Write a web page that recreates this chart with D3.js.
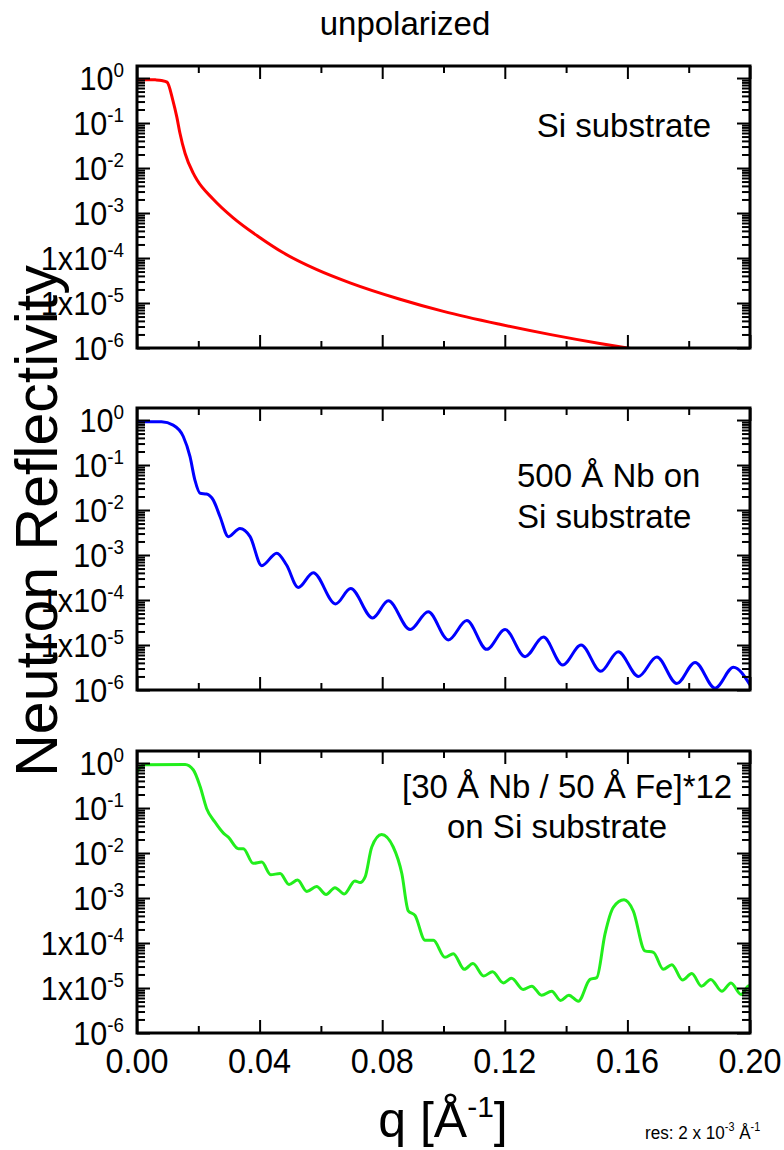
<!DOCTYPE html>
<html>
<head>
<meta charset="utf-8">
<script src="https://cdn.jsdelivr.net/npm/d3@7"></script>
<style>
  body { margin: 0; background: #fff; }
  text { font-family: "Liberation Sans", Arial, sans-serif; fill: #000; }
</style>
</head>
<body>
<div class="chart"></div>
<script>
// reflectivity curves, q in 1/Angstrom
var siQ = [0, 0.002, 0.004, 0.006, 0.008, 0.0098, 0.0117, 0.013, 0.014, 0.0157,
  0.0183, 0.0196, 0.0248, 0.0313, 0.0398, 0.0476, 0.0587, 0.0695, 0.0858, 0.100,
  0.118, 0.135, 0.151, 0.160, 0.180, 0.200];
var siR = [0.90, 0.92, 0.92, 0.91, 0.88, 0.81, 0.32, 0.135, 0.060, 0.021,
  0.0078, 0.0054, 0.00205, 7.9e-4, 2.93e-4, 1.32e-4, 5.5e-5, 2.8e-5, 1.21e-5, 6.5e-6,
  3.4e-6, 1.98e-6, 1.26e-6, 1.0e-6, 6.2e-7, 4.1e-7];

var nbQ = [0, 0.0026, 0.0080, 0.0118, 0.0151, 0.0173, 0.0189, 0.0206, 0.0227, 0.0249,
  0.0271, 0.0298, 0.0336, 0.0369, 0.0407, 0.0456, 0.0488, 0.0526, 0.0575, 0.0648,
  0.0697, 0.0769, 0.0820, 0.0891, 0.0950, 0.1016, 0.1076, 0.1141, 0.1201, 0.1266,
  0.1326, 0.1389, 0.1449, 0.1513, 0.1570, 0.1636, 0.1696, 0.1761, 0.1821, 0.1886,
  0.1946, 0.2000];
var nbR = [0.92, 0.92, 0.91, 0.77, 0.43, 0.153, 0.046, 0.0235, 0.0227, 0.0166,
  0.0071, 0.00256, 0.0039, 0.00256, 5.8e-4, 1.1e-3, 6.0e-4, 1.9e-4, 4.05e-4, 8.2e-5,
  1.8e-4, 4.0e-5, 9.6e-5, 2.2e-5, 5.5e-5, 1.3e-5, 3.5e-5, 8.0e-6, 2.2e-5, 5.5e-6,
  1.5e-5, 3.6e-6, 1.0e-5, 2.6e-6, 7.1e-6, 2.0e-6, 5.4e-6, 1.4e-6, 4.1e-6, 1.1e-6,
  3.2e-6, 1.3e-6];

var mlQ = [0, 0.001, 0.0026, 0.0157, 0.0184, 0.0206, 0.0227, 0.0254, 0.0282, 0.0298,
  0.0331, 0.0347, 0.0379, 0.0407, 0.0436, 0.0467, 0.0496, 0.0524, 0.0554, 0.0586,
  0.0617, 0.0646, 0.0676, 0.0711, 0.0728, 0.0744, 0.0766, 0.0798, 0.0836, 0.0864,
  0.0885, 0.0907, 0.0940, 0.0967, 0.1005, 0.1032, 0.1068, 0.1096, 0.1131, 0.1160,
  0.1195, 0.1222, 0.1260, 0.1288, 0.1320, 0.1353, 0.1382, 0.1409, 0.1440, 0.1478,
  0.1500, 0.1527, 0.1554, 0.1589, 0.1619, 0.1657, 0.1685, 0.1717, 0.1745, 0.1780,
  0.1810, 0.1842, 0.1872, 0.1908, 0.1938, 0.1971, 0.1994, 0.2000];
var mlR = [0.62, 0.80, 0.92, 0.93, 0.70, 0.30, 0.098, 0.049, 0.0277, 0.0225,
  0.0125, 0.0125, 0.0059, 0.0063, 0.0033, 0.0035, 0.0020, 0.0025, 0.0014, 0.0018,
  0.0012, 0.0017, 0.00123, 0.0024, 0.0022, 0.0029, 0.0136, 0.0257, 0.0136, 0.0035,
  5.2e-4, 4.1e-4, 1.15e-4, 1.15e-4, 4.8e-5, 5.8e-5, 2.6e-5, 3.5e-5, 1.85e-5, 2.3e-5,
  1.3e-5, 1.65e-5, 9.3e-6, 1.1e-5, 6.9e-6, 8.5e-6, 5.3e-6, 6.9e-6, 5.1e-6, 1.55e-5,
  1.7e-5, 1.6e-4, 6.2e-4, 9.1e-4, 5.2e-4, 6.7e-5, 6.2e-5, 2.6e-5, 3.3e-5, 1.5e-5,
  2.1e-5, 1.1e-5, 1.55e-5, 8.5e-6, 1.3e-5, 7.2e-6, 1.1e-5, 1.15e-5];

// axis ticks
var qTicks = [0, 0.04, 0.08, 0.12, 0.16, 0.20];
var qMinorTicks = [0.02, 0.06, 0.10, 0.14, 0.18];
var qTickLabels = ["0.00", "0.04", "0.08", "0.12", "0.16", "0.20"];
var rTicks = [1, 1e-1, 1e-2, 1e-3, 1e-4, 1e-5, 1e-6];
var rTickBase = ["10", "10", "10", "10", "1x10", "1x10", "10"];
var rTickExp = ["0", "-1", "-2", "-3", "-4", "-5", "-6"];

var panelColors = ["#ff0000", "#0000ff", "#22ee1c"];

var svgWidth = 784;
var svgHeight = 1150;
var plotLeft = 137;
var plotRight = 750;
var panelHeight = 282;
var panelTops = [66, 408, 751];

var svg = d3.select(".chart")
  .append("svg")
  .attr("width", svgWidth)
  .attr("height", svgHeight);

var xScale = d3.scaleLinear()
  .domain([0, 0.2])
  .range([plotLeft, plotRight]);

// log minor ticks 2..9 in every decade
var rMinorTicks = [];
for (var k = -6; k < 0; k++) {
  for (var m = 2; m <= 9; m++) rMinorTicks.push(m * Math.pow(10, k));
}

var series = [
  { q: siQ, r: siR },
  { q: nbQ, r: nbR },
  { q: mlQ, r: mlR }
];

series.forEach(function(s, i) {
  var top = panelTops[i];
  var yScale = d3.scaleLog()
    .domain([1e-6, 1.85])
    .range([top + panelHeight, top]);

  var g = svg.append("g");

  svg.append("clipPath")
    .attr("id", "clip" + i)
    .append("rect")
    .attr("x", plotLeft)
    .attr("y", top)
    .attr("width", plotRight - plotLeft)
    .attr("height", panelHeight);

  var points = s.q.map(function(q, j) { return [q, s.r[j]]; });
  var line = d3.line()
    .x(d => xScale(d[0]))
    .y(d => yScale(d[1]))
    .curve(d3.curveMonotoneX);

  g.append("path")
    .datum(points)
    .attr("clip-path", "url(#clip" + i + ")")
    .attr("d", line)
    .attr("fill", "none")
    .attr("stroke", panelColors[i])
    .attr("stroke-width", 3)
    .attr("stroke-linejoin", "round");

  // inward ticks on all four sides
  function addAxis(axis, tx, ty) {
    g.append("g")
      .attr("transform", `translate(${tx}, ${ty})`)
      .call(axis)
      .call(a => a.select(".domain").remove())
      .call(a => a.selectAll("line").attr("stroke", "#000").attr("stroke-width", 2));
  }
  addAxis(d3.axisLeft(yScale).tickValues(rTicks).tickSize(-13).tickFormat(""), plotLeft, 0);
  addAxis(d3.axisLeft(yScale).tickValues(rMinorTicks).tickSize(-8).tickFormat(""), plotLeft, 0);
  addAxis(d3.axisRight(yScale).tickValues(rTicks).tickSize(-13).tickFormat(""), plotRight, 0);
  addAxis(d3.axisRight(yScale).tickValues(rMinorTicks).tickSize(-8).tickFormat(""), plotRight, 0);
  addAxis(d3.axisTop(xScale).tickValues(qTicks).tickSize(-13).tickFormat(""), 0, top);
  addAxis(d3.axisTop(xScale).tickValues(qMinorTicks).tickSize(-7).tickFormat(""), 0, top);
  addAxis(d3.axisBottom(xScale).tickValues(qTicks).tickSize(-13).tickFormat(""), 0, top + panelHeight);
  addAxis(d3.axisBottom(xScale).tickValues(qMinorTicks).tickSize(-7).tickFormat(""), 0, top + panelHeight);

  // frame
  g.append("rect")
    .attr("x", plotLeft)
    .attr("y", top)
    .attr("width", plotRight - plotLeft)
    .attr("height", panelHeight)
    .attr("fill", "none")
    .attr("stroke", "#000")
    .attr("stroke-width", 3);

  // y tick labels with superscript exponents, slightly condensed
  rTicks.forEach(function(t, j) {
    var label = g.append("text")
      .attr("transform", `translate(124, ${yScale(t) + 12}) scale(0.9, 1)`)
      .attr("text-anchor", "end")
      .style("font-size", "34px");
    label.append("tspan").text(rTickBase[j]);
    label.append("tspan")
      .attr("dy", -13)
      .style("font-size", "21px")
      .text(rTickExp[j]);
  });
});

// x tick labels under the last panel
svg.selectAll(".xlabel")
  .data(qTicks)
  .enter()
  .append("text")
  .attr("class", "xlabel")
  .attr("transform", d => `translate(${xScale(d)}, 1073) scale(0.9, 1)`)
  .attr("text-anchor", "middle")
  .style("font-size", "36px")
  .text((d, i) => qTickLabels[i]);

// panel annotations
function addNote(lines, x, y, anchor) {
  lines.forEach(function(t, j) {
    svg.append("text")
      .attr("x", x[j])
      .attr("y", y[j])
      .attr("text-anchor", anchor)
      .style("font-size", "33px")
      .text(t);
  });
}
addNote(["Si substrate"], [711], [137], "end");
addNote(["500 Å Nb on", "Si substrate"], [517, 517], [487, 528], "start");
addNote(["[30 Å Nb / 50 Å Fe]*12", "on Si substrate"], [402, 447], [798, 838], "start");

// title
svg.append("text")
  .attr("x", 405)
  .attr("y", 35)
  .attr("text-anchor", "middle")
  .style("font-size", "33px")
  .text("unpolarized");

// axis titles
svg.append("text")
  .attr("transform", "translate(57, 521) rotate(-90)")
  .attr("text-anchor", "middle")
  .style("font-size", "59px")
  .text("Neutron Reflectivity");

var qTitle = svg.append("text")
  .attr("x", 443)
  .attr("y", 1137)
  .attr("text-anchor", "middle")
  .style("font-size", "50px");
qTitle.append("tspan").text("q [Å");
qTitle.append("tspan").attr("dy", -20).style("font-size", "30px").text("-1");
qTitle.append("tspan").attr("dy", 20).text("]");

var res = svg.append("text")
  .attr("transform", "translate(645, 1139) scale(0.9, 1)")
  .style("font-size", "19px");
res.append("tspan").text("res: 2 x 10");
res.append("tspan").attr("dy", -8).style("font-size", "12px").text("-3");
res.append("tspan").attr("dy", 8).text(" Å");
res.append("tspan").attr("dy", -8).style("font-size", "12px").text("-1");
</script>
</body>
</html>
